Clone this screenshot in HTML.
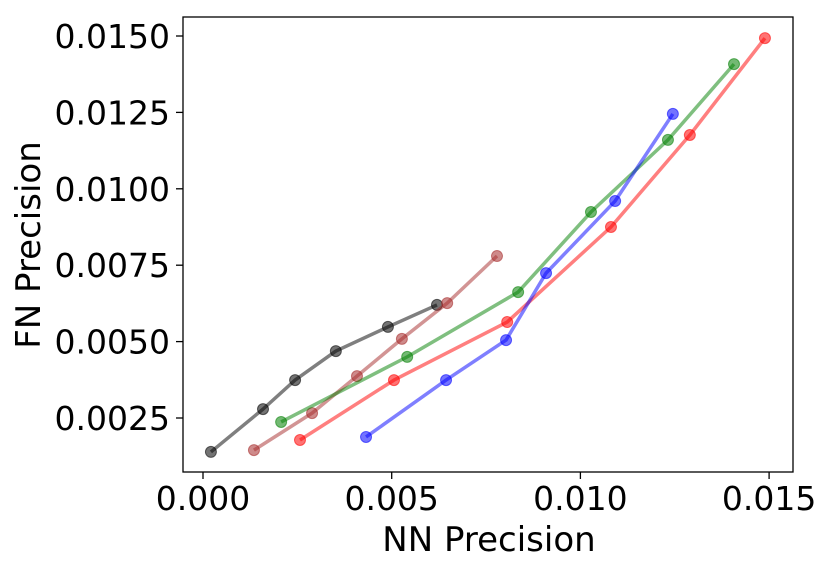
<!DOCTYPE html>
<html><head><meta charset="utf-8"><style>
html,body{margin:0;padding:0;background:#fff;}
svg text{font-family:"DejaVu Sans","Liberation Sans",sans-serif;fill:#000;}
</style></head><body>
<svg id="chart" width="830" height="570" viewBox="0 0 830 570" xmlns="http://www.w3.org/2000/svg">
<rect x="183" y="17" width="610" height="455" fill="none" stroke="#000" stroke-width="1.3"/>
<g id="ticks"></g>
<g id="series"></g>
<text x="489" y="551" font-size="34" text-anchor="middle">NN Precision</text>
<text transform="translate(40,245) rotate(-90)" font-size="34" text-anchor="middle">FN Precision</text>
</svg>
<script>
const xTicks=[0.000,0.005,0.010,0.015];
const xTickLabels=["0.000","0.005","0.010","0.015"];
const yTicks=[0.0025,0.0050,0.0075,0.0100,0.0125,0.0150];
const yTickLabels=["0.0025","0.0050","0.0075","0.0100","0.0125","0.0150"];
const blackX=[0.00021,0.00159,0.00244,0.00352,0.00490,0.00620];
const blackY=[0.00139,0.00279,0.00374,0.00469,0.00548,0.00620];
const brownX=[0.00135,0.00289,0.00408,0.00527,0.00647,0.00779];
const brownY=[0.00145,0.00266,0.00387,0.00509,0.00626,0.00780];
const greenX=[0.00207,0.00541,0.00835,0.01028,0.01232,0.01407];
const greenY=[0.00237,0.00450,0.00662,0.00924,0.01160,0.01408];
const redX=[0.00257,0.00506,0.00806,0.01081,0.01290,0.01489];
const redY=[0.00178,0.00374,0.00564,0.00875,0.01176,0.01493];
const blueX=[0.00432,0.00644,0.00803,0.00909,0.01092,0.01245];
const blueY=[0.00188,0.00374,0.00505,0.00724,0.00960,0.01245];
const NS="http://www.w3.org/2000/svg";
function sx(v){return 203+v/0.005*188.7;}
function sy(v){return 36+(0.015-v)/0.0025*76.4;}
const tg=document.getElementById('ticks');
function mk(tag,attrs,parent){const e=document.createElementNS(NS,tag);for(const k in attrs)e.setAttribute(k,attrs[k]);parent.appendChild(e);return e;}
xTicks.forEach((v,i)=>{
  const l=mk('line',{x1:sx(v),x2:sx(v),y1:472,y2:479,stroke:'#000','stroke-width':1.3},tg);
  
  
  const t=mk('text',{x:sx(v),y:510,'font-size':33,'text-anchor':'middle'},tg);
  t.textContent=xTickLabels[i];
  
  
});
yTicks.forEach((v,i)=>{
  const l=mk('line',{x1:176,x2:183,y1:sy(v),y2:sy(v),stroke:'#000','stroke-width':1.3},tg);
  
  
  const t=mk('text',{x:170,y:sy(v)+12,'font-size':33,'text-anchor':'end'},tg);
  t.textContent=yTickLabels[i];
  
  
});
const sg=document.getElementById('series');
const series=[["black",blackX,blackY,"#000000"],["brown",brownX,brownY,"#a52a2a"],["green",greenX,greenY,"#008000"],["red",redX,redY,"#ff0000"],["blue",blueX,blueY,"#0000ff"]];
series.forEach(([name,xs,ys,c])=>{
  const g=mk('g',{},sg);
  
  
  const pts=xs.map((x,i)=>sx(x)+','+sy(ys[i])).join(' ');
  const pl=mk('polyline',{points:pts,fill:'none',stroke:c,'stroke-opacity':0.5,'stroke-width':3.5,'stroke-linejoin':'round'},g);
  
  
  xs.forEach((x,i)=>{
    const p=mk('circle',{cx:sx(x),cy:sy(ys[i]),r:5.5,fill:c,'fill-opacity':0.55,stroke:c,'stroke-opacity':0.55,'stroke-width':1},g);
    
    
  });
});
</script>
</body></html>
